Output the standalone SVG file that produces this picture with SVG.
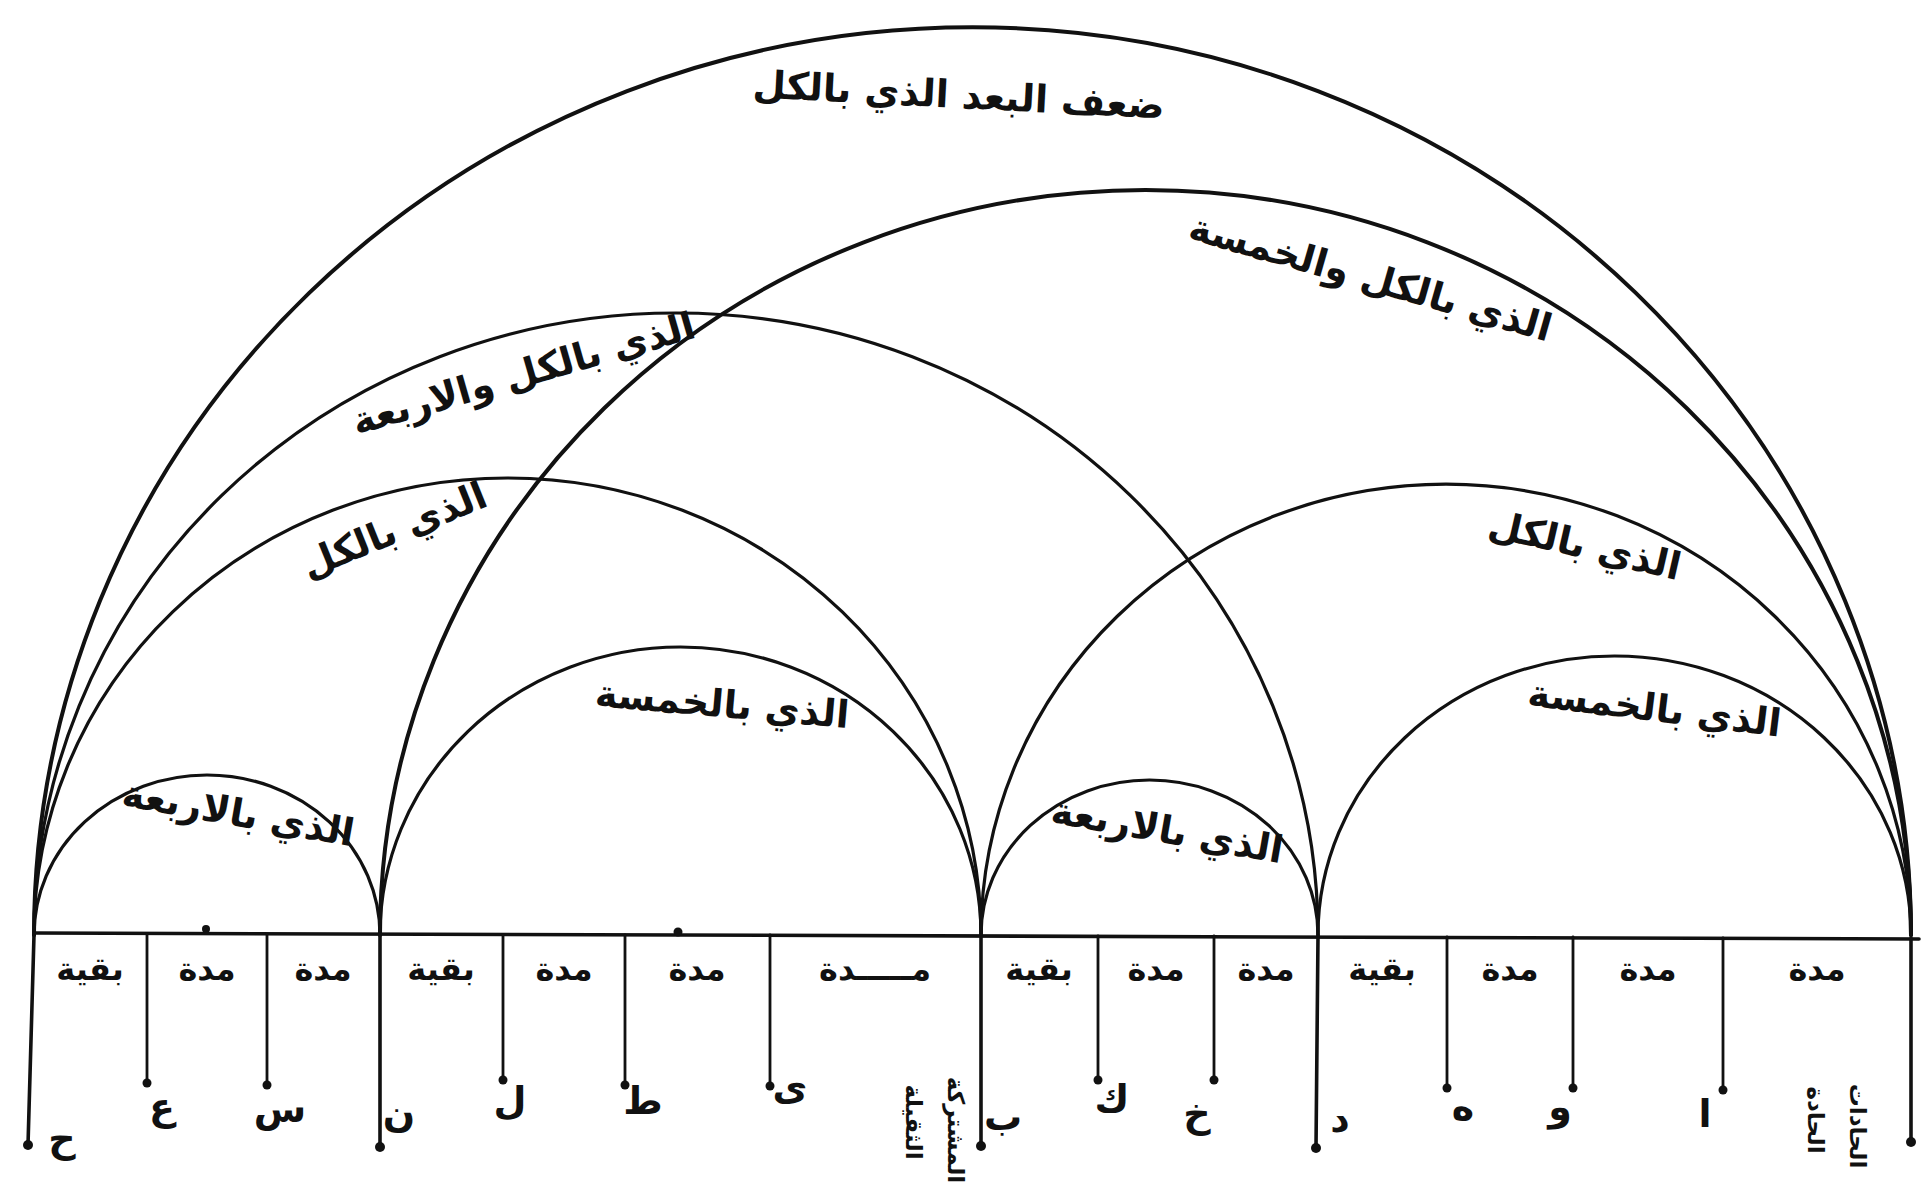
<svg xmlns="http://www.w3.org/2000/svg" width="1923" height="1188" viewBox="0 0 1923 1188">
<style>
.arc{fill:none;stroke:#111;stroke-width:3.2;stroke-linecap:round}
.arcb{fill:none;stroke:#111;stroke-width:4;stroke-linecap:round}
.maj{stroke:#111;stroke-width:3.6;stroke-linecap:round}
.min{stroke:#111;stroke-width:2.8;stroke-linecap:round}
.dot{fill:#111}
.lbl{font-family:"DejaVu Sans",sans-serif;fill:#111;text-anchor:middle;direction:rtl}
.arcl{font-size:38px;font-weight:bold}
.seg{font-size:32px;font-weight:bold}
.let{font-size:38px;font-weight:bold}
.vt{font-size:23px;font-weight:bold}
</style>
<rect width="1923" height="1188" fill="#fff"/>
<g id="connectors">
<path class="arcb" d="M34 935 A938.5 908 0 0 1 1911 935"/>
<path class="arcb" d="M380 935 A765.5 745 0 0 1 1911 935"/>
<path class="arc" d="M34 935 A642 622 0 0 1 1318 935"/>
<path class="arc" d="M34 935 A473.5 457 0 0 1 981 935"/>
<path class="arc" d="M981 935 A465 451 0 0 1 1911 935"/>
<path class="arc" d="M380 935 A300.5 288 0 0 1 981 935"/>
<path class="arc" d="M1318 935 A296.5 279 0 0 1 1911 935"/>
<path class="arc" d="M34 935 A173 160 0 0 1 380 935"/>
<path class="arc" d="M981 935 A168.5 155 0 0 1 1318 935"/>
<line class="maj" x1="34" y1="933" x2="1919" y2="939"/>
<line class="maj" x1="34" y1="935" x2="28" y2="1145"/>
<line class="maj" x1="380" y1="935" x2="380" y2="1147"/>
<line class="maj" x1="981" y1="935" x2="981" y2="1146"/>
<line class="maj" x1="1318" y1="936" x2="1316" y2="1148"/>
<line class="maj" x1="1911" y1="938" x2="1911" y2="1142"/>
<line class="min" x1="147" y1="934" x2="147" y2="1083"/>
<line class="min" x1="267" y1="934" x2="267" y2="1085"/>
<line class="min" x1="503" y1="935" x2="503" y2="1080"/>
<line class="min" x1="625" y1="935" x2="625" y2="1085"/>
<line class="min" x1="770" y1="935" x2="770" y2="1086"/>
<line class="min" x1="1098" y1="936" x2="1098" y2="1080"/>
<line class="min" x1="1214" y1="936" x2="1214" y2="1080"/>
<line class="min" x1="1447" y1="937" x2="1447" y2="1088"/>
<line class="min" x1="1573" y1="937" x2="1573" y2="1088"/>
<line class="min" x1="1723" y1="938" x2="1723" y2="1090"/>
<circle class="dot" cx="28" cy="1145" r="5"/>
<circle class="dot" cx="380" cy="1147" r="5"/>
<circle class="dot" cx="981" cy="1146" r="5"/>
<circle class="dot" cx="1316" cy="1148" r="5"/>
<circle class="dot" cx="1911" cy="1142" r="5"/>
<circle class="dot" cx="147" cy="1083" r="4.5"/>
<circle class="dot" cx="267" cy="1085" r="4.5"/>
<circle class="dot" cx="503" cy="1080" r="4.5"/>
<circle class="dot" cx="625" cy="1085" r="4.5"/>
<circle class="dot" cx="770" cy="1086" r="4.5"/>
<circle class="dot" cx="1098" cy="1080" r="4.5"/>
<circle class="dot" cx="1214" cy="1080" r="4.5"/>
<circle class="dot" cx="1447" cy="1088" r="4.5"/>
<circle class="dot" cx="1573" cy="1088" r="4.5"/>
<circle class="dot" cx="1723" cy="1090" r="4.5"/>
<circle class="dot" cx="206" cy="929" r="4"/>
<circle class="dot" cx="678" cy="932" r="4.5"/>
</g>
<g id="arc-labels">
<text class="lbl arcl" x="958" y="108" transform="rotate(3 958 108)" font-size="48">ضعف البعد الذي بالكل</text>
<text class="lbl arcl" x="1367" y="290" transform="rotate(16 1367 290)">الذي بالكل والخمسة</text>
<text class="lbl arcl" x="527" y="386" transform="rotate(-16 527 386)">الذي بالكل والاربعة</text>
<text class="lbl arcl" x="399" y="542" transform="rotate(-22 399 542)">الذي بالكل</text>
<text class="lbl arcl" x="1582" y="558" transform="rotate(13 1582 558)">الذي بالكل</text>
<text class="lbl arcl" x="721" y="717" transform="rotate(5 721 717)">الذي بالخمسة</text>
<text class="lbl arcl" x="1653" y="721" transform="rotate(7 1653 721)">الذي بالخمسة</text>
<text class="lbl arcl" x="236" y="826" transform="rotate(10 236 826)">الذي بالاربعة</text>
<text class="lbl arcl" x="1165" y="843" transform="rotate(10 1165 843)">الذي بالاربعة</text>
</g>
<g id="segment-labels">
<text class="lbl seg" x="90" y="980">بقية</text>
<text class="lbl seg" x="207" y="980">مدة</text>
<text class="lbl seg" x="323" y="980">مدة</text>
<text class="lbl seg" x="441" y="980">بقية</text>
<text class="lbl seg" x="564" y="980">مدة</text>
<text class="lbl seg" x="697" y="980">مدة</text>
<text class="lbl seg" x="875" y="980">مـــــدة</text>
<text class="lbl seg" x="1039" y="980">بقية</text>
<text class="lbl seg" x="1156" y="980">مدة</text>
<text class="lbl seg" x="1266" y="980">مدة</text>
<text class="lbl seg" x="1382" y="980">بقية</text>
<text class="lbl seg" x="1510" y="980">مدة</text>
<text class="lbl seg" x="1648" y="980">مدة</text>
<text class="lbl seg" x="1817" y="980">مدة</text>
</g>
<g id="note-letters">
<text class="lbl let" x="62" y="1152">ح</text>
<text class="lbl let" x="162" y="1120">ع</text>
<text class="lbl let" x="280" y="1122">س</text>
<text class="lbl let" x="399" y="1127">ن</text>
<text class="lbl let" x="510" y="1114">ل</text>
<text class="lbl let" x="643" y="1114">ط</text>
<text class="lbl let" x="790" y="1100">ى</text>
<text class="lbl let" x="1003" y="1130">ب</text>
<text class="lbl let" x="1112" y="1112">ك</text>
<text class="lbl let" x="1197" y="1127">خ</text>
<text class="lbl let" x="1340" y="1132">د</text>
<text class="lbl let" x="1463" y="1120">ه</text>
<text class="lbl let" x="1560" y="1120">و</text>
<text class="lbl let" x="1705" y="1127">ا</text>
<text class="lbl vt" transform="translate(906 1122) rotate(90)">الثقيلة</text>
<text class="lbl vt" transform="translate(948 1130) rotate(90)">المشتركة</text>
<text class="lbl vt" transform="translate(1808 1120) rotate(90)">الحادة</text>
<text class="lbl vt" transform="translate(1850 1126) rotate(90)">الحادات</text>
</g>
</svg>
